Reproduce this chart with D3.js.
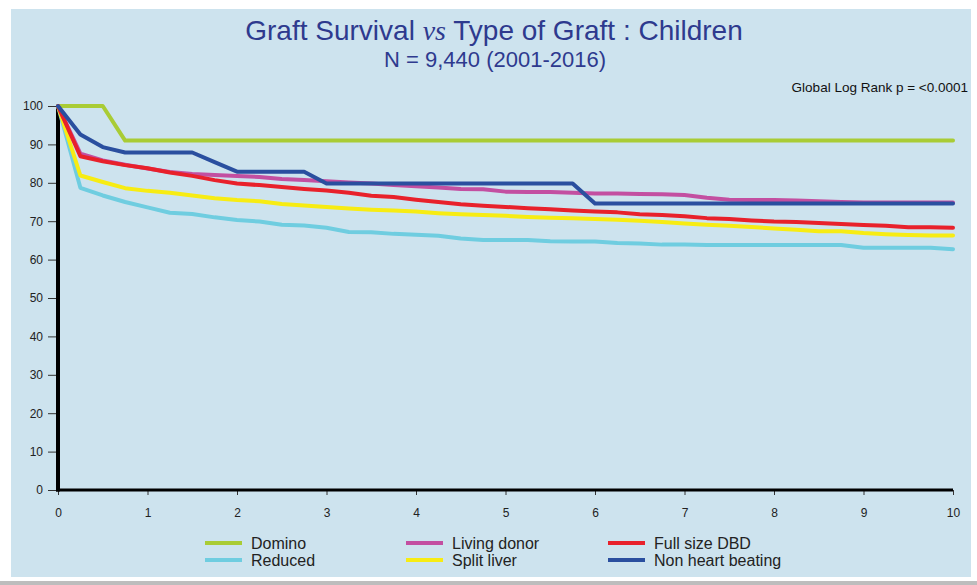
<!DOCTYPE html>
<html lang="en">
<head>
<meta charset="utf-8" />
<title>Graft Survival vs Type of Graft : Children</title>
<script src="https://d3js.org/d3.v7.min.js"></script>
<style>
    body, html { margin: 0; padding: 0; width: 100%; height: 100%; overflow: hidden; background: #fff; }
    text { font-family: "Liberation Sans", Arial, sans-serif; }
    .tick text { font-size: 12px; fill: #222; }
</style>
</head>
<body>
<div id="chart"></div>
<script>
    // years after transplant
    const years = [0, 0.25, 0.5, 0.75, 1, 1.25, 1.5, 1.75, 2, 2.25, 2.5, 2.75, 3, 3.25, 3.5, 3.75,
        4, 4.25, 4.5, 4.75, 5, 5.25, 5.5, 5.75, 6, 6.25, 6.5, 6.75, 7, 7.25, 7.5, 7.75,
        8, 8.25, 8.5, 8.75, 9, 9.25, 9.5, 9.75, 10];

    const domino = [100, 100, 100, 91, 91, 91, 91, 91, 91, 91, 91, 91, 91, 91, 91, 91,
        91, 91, 91, 91, 91, 91, 91, 91, 91, 91, 91, 91, 91, 91, 91, 91,
        91, 91, 91, 91, 91, 91, 91, 91, 91];
    const livingDonor = [100, 87.6, 85.8, 84.7, 83.7, 82.8, 82.3, 82.0, 81.8, 81.5, 81.0, 80.7, 80.4, 80.1, 79.8, 79.4,
        79.1, 78.8, 78.4, 78.3, 77.7, 77.6, 77.6, 77.4, 77.2, 77.2, 77.1, 77.0, 76.8, 76.1, 75.6, 75.5,
        75.5, 75.4, 75.2, 75.0, 74.9, 74.9, 74.9, 74.9, 74.9];
    const fullSizeDBD = [100, 86.9, 85.6, 84.6, 83.8, 82.7, 81.8, 80.7, 79.8, 79.4, 78.9, 78.4, 78.0, 77.4, 76.6, 76.3,
        75.6, 75.0, 74.4, 74.0, 73.7, 73.4, 73.1, 72.8, 72.5, 72.3, 71.8, 71.6, 71.3, 70.8, 70.6, 70.2,
        69.9, 69.8, 69.5, 69.3, 69.0, 68.8, 68.4, 68.4, 68.3];
    const reduced = [100, 78.7, 76.7, 75.0, 73.6, 72.2, 71.9, 71.0, 70.3, 69.9, 69.1, 68.9, 68.3, 67.2, 67.1, 66.7,
        66.5, 66.2, 65.5, 65.1, 65.1, 65.1, 64.8, 64.7, 64.7, 64.3, 64.2, 63.9, 63.9, 63.8, 63.8, 63.8,
        63.8, 63.8, 63.8, 63.8, 63.1, 63.1, 63.1, 63.1, 62.7];
    const splitLiver = [100, 81.9, 80.2, 78.6, 77.9, 77.4, 76.7, 76.0, 75.5, 75.2, 74.5, 74.1, 73.7, 73.3, 73.0, 72.8,
        72.5, 72.1, 71.8, 71.6, 71.4, 71.1, 70.9, 70.8, 70.6, 70.4, 70.1, 69.8, 69.4, 69.1, 68.8, 68.5,
        68.1, 67.8, 67.4, 67.4, 66.9, 66.6, 66.4, 66.3, 66.3];
    const nonHeartBeating = [100, 92.6, 89.3, 87.9, 87.9, 87.9, 87.9, 85.4, 82.9, 82.9, 82.9, 82.9, 79.8, 79.8, 79.8, 79.8,
        79.8, 79.8, 79.8, 79.8, 79.8, 79.8, 79.8, 79.8, 74.6, 74.6, 74.6, 74.6, 74.6, 74.6, 74.6, 74.6,
        74.6, 74.6, 74.6, 74.6, 74.6, 74.6, 74.6, 74.6, 74.6];

    const xTicks = [0, 1, 2, 3, 4, 5, 6, 7, 8, 9, 10];
    const yTicks = [0, 10, 20, 30, 40, 50, 60, 70, 80, 90, 100];

    // drawing order (later ones on top)
    const series = [
        { name: "Domino", values: domino, color: "#a9cc35" },
        { name: "Reduced", values: reduced, color: "#6fcde0" },
        { name: "Split liver", values: splitLiver, color: "#f7ec13" },
        { name: "Living donor", values: livingDonor, color: "#c34fa1" },
        { name: "Full size DBD", values: fullSizeDBD, color: "#e8212b" },
        { name: "Non heart beating", values: nonHeartBeating, color: "#2a4f9f" }
    ];
    const legendOrder = ["Domino", "Living donor", "Full size DBD", "Reduced", "Split liver", "Non heart beating"];

    const width = 977, height = 585;
    const svg = d3.select("#chart").append("svg")
        .attr("width", width)
        .attr("height", height);

    // panel background + grey strip at the bottom
    svg.append("rect").attr("x", 11).attr("y", 9).attr("width", 960).attr("height", 568).attr("fill", "#cde3ee");
    svg.append("rect").attr("x", 0).attr("y", 581).attr("width", width).attr("height", 4).attr("fill", "#bdbdbd");

    const x = d3.scaleLinear().domain([0, 10]).range([58, 953]);
    const y = d3.scaleLinear().domain([0, 100]).range([490, 106]);

    // titles
    const title = svg.append("text")
        .attr("x", 494).attr("y", 40)
        .attr("text-anchor", "middle")
        .attr("fill", "#2e3a8e")
        .style("font-size", "28px");
    title.append("tspan").text("Graft Survival ");
    title.append("tspan").text("vs")
        .style("font-family", "'Liberation Serif', 'DejaVu Serif', serif")
        .style("font-style", "italic");
    title.append("tspan").text(" Type of Graft : Children");

    svg.append("text")
        .attr("x", 495).attr("y", 67)
        .attr("text-anchor", "middle")
        .attr("fill", "#2e3a8e")
        .style("font-size", "22px")
        .text("N = 9,440 (2001-2016)");

    svg.append("text")
        .attr("x", 968).attr("y", 92)
        .attr("text-anchor", "end")
        .attr("fill", "#111")
        .style("font-size", "13.5px")
        .text("Global Log Rank p = <0.0001");

    // axes
    const yAxis = svg.append("g")
        .attr("transform", "translate(58,0)")
        .call(d3.axisLeft(y).tickValues(yTicks).tickSize(10).tickPadding(5));
    yAxis.selectAll(".tick line").attr("stroke", "#333");
    yAxis.select(".domain").remove();

    const xAxis = svg.append("g")
        .attr("transform", "translate(0,490)")
        .call(d3.axisBottom(x).tickValues(xTicks).tickSize(5).tickPadding(13));
    xAxis.selectAll(".tick line").attr("stroke", "#333");
    xAxis.select(".domain").remove();

    svg.append("line")
        .attr("x1", x(0)).attr("x2", x(0))
        .attr("y1", y(100)).attr("y2", y(0) + 1.5)
        .attr("stroke", "#000").attr("stroke-width", 4);
    svg.append("line")
        .attr("x1", x(0) - 2).attr("x2", x(10))
        .attr("y1", y(0)).attr("y2", y(0))
        .attr("stroke", "#000").attr("stroke-width", 3);

    // survival curves
    const line = d3.line()
        .x((d, i) => x(years[i]))
        .y(d => y(d));

    svg.append("g").selectAll("path")
        .data(series)
        .enter().append("path")
        .attr("d", d => line(d.values))
        .attr("fill", "none")
        .attr("stroke", d => d.color)
        .attr("stroke-width", 4)
        .attr("stroke-linejoin", "round")
        .attr("stroke-linecap", "round");

    // legend: 3 columns x 2 rows
    const legendX = [205, 406, 608];
    const legendY = [543, 560];
    const legend = svg.append("g").selectAll("g")
        .data(legendOrder.map(n => series.find(s => s.name === n)))
        .enter().append("g")
        .attr("transform", (d, i) => `translate(${legendX[i % 3]},${legendY[Math.floor(i / 3)]})`);
    legend.append("line")
        .attr("x1", 0).attr("x2", 37)
        .attr("stroke", d => d.color)
        .attr("stroke-width", 4);
    legend.append("text")
        .attr("x", 46).attr("y", 5.5)
        .attr("fill", "#222")
        .style("font-size", "16px")
        .text(d => d.name);
</script>
</body>
</html>
